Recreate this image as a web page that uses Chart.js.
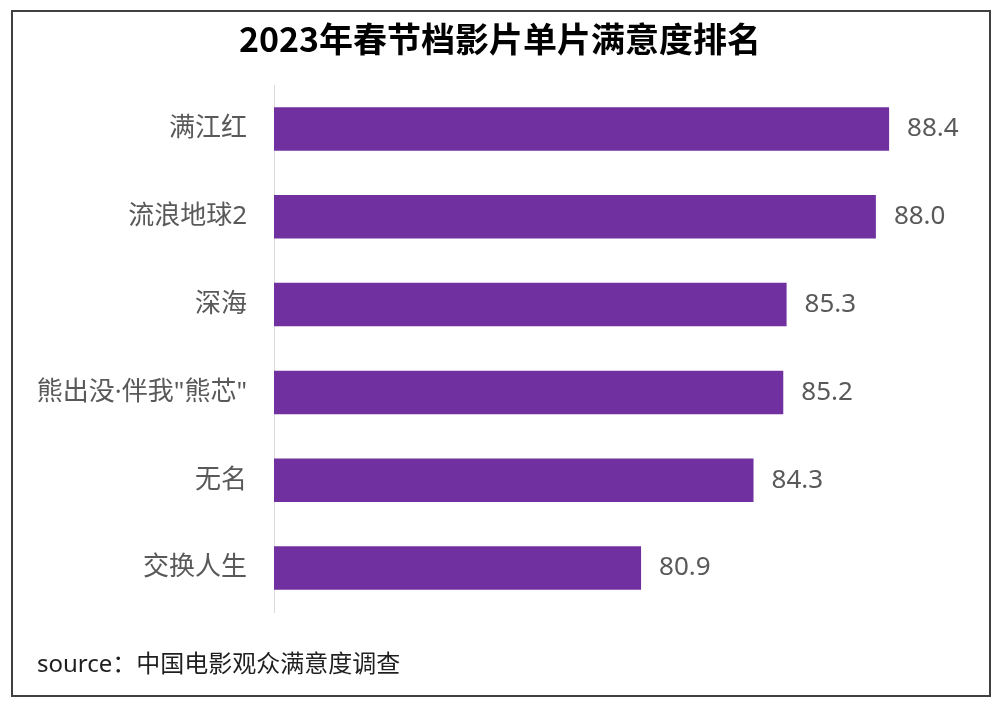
<!DOCTYPE html>
<html>
<head>
<meta charset="utf-8">
<script src="https://cdn.jsdelivr.net/npm/chart.js@4.4.0/dist/chart.umd.min.js"></script>
<style>
  html, body { margin: 0; padding: 0; background: #fff; }
  #wrap { position: absolute; left: 0; top: 0; width: 1000px; height: 707px; }
</style>
</head>
<body>
<div id="wrap"><canvas id="c" width="1000" height="707"></canvas></div>
<script>
const categories = ['满江红', '流浪地球2', '深海', '熊出没·伴我"熊芯"', '无名', '交换人生'];
const satisfaction = [88.4, 88.0, 85.3, 85.2, 84.3, 80.9];
const titleText = '2023年春节档影片单片满意度排名';
const sourceText = 'source：中国电影观众满意度调查';

const FONT = '"Noto Sans", "Noto Sans CJK SC", sans-serif';
const TITLE_FONT = '"Noto Sans CJK SC", "Noto Sans", sans-serif';

const framePlugin = {
  id: 'frame',
  beforeDraw(chart) {
    const ctx = chart.ctx;
    ctx.save();
    ctx.fillStyle = '#ffffff';
    ctx.fillRect(0, 0, chart.width, chart.height);
    ctx.strokeStyle = '#404040';
    ctx.lineWidth = 2;
    ctx.strokeRect(12, 11, 978, 685);
    ctx.restore();
  },
  afterDraw(chart) {
    const ctx = chart.ctx;
    ctx.save();
    ctx.font = '24px ' + FONT;
    ctx.fillStyle = '#1f1f1f';
    ctx.textAlign = 'left';
    ctx.textBaseline = 'middle';
    ctx.fillText(sourceText, 37, 665);
    ctx.restore();
  }
};

const valueLabels = {
  id: 'valueLabels',
  afterDatasetsDraw(chart) {
    const ctx = chart.ctx;
    const meta = chart.getDatasetMeta(0);
    const data = chart.data.datasets[0].data;
    ctx.save();
    ctx.font = '26px ' + FONT;
    ctx.fillStyle = '#595959';
    ctx.textAlign = 'left';
    ctx.textBaseline = 'middle';
    meta.data.forEach((bar, i) => {
      ctx.fillText(data[i].toFixed(1), bar.x + 18, bar.y);
    });
    ctx.restore();
  }
};

new Chart(document.getElementById('c'), {
  type: 'bar',
  data: {
    labels: categories,
    datasets: [{
      data: satisfaction,
      backgroundColor: '#7030a0',
      borderWidth: 0,
      categoryPercentage: 1.0,
      barPercentage: 0.495
    }]
  },
  options: {
    indexAxis: 'y',
    responsive: false,
    animation: false,
    devicePixelRatio: 1,
    layout: { padding: { left: 14, right: 14, top: 0, bottom: 95 } },
    plugins: {
      legend: { display: false },
      tooltip: { enabled: false },
      title: {
        display: true,
        text: titleText,
        color: '#000000',
        font: { family: TITLE_FONT, size: 34, weight: 'bold', lineHeight: 1.2 },
        padding: { top: 18.6, bottom: 25.6 }
      }
    },
    scales: {
      x: {
        display: false,
        min: 69.8,
        max: 91.33
      },
      y: {
        grid: { display: false, drawTicks: false },
        border: { display: true, color: '#d9d9d9', width: 1 },
        ticks: {
          color: '#595959',
          padding: 27,
          autoSkip: false,
          font: { family: FONT, size: 26 }
        },
        afterFit(scale) { scale.width = 260; }
      }
    }
  },
  plugins: [framePlugin, valueLabels]
});
</script>
</body>
</html>
